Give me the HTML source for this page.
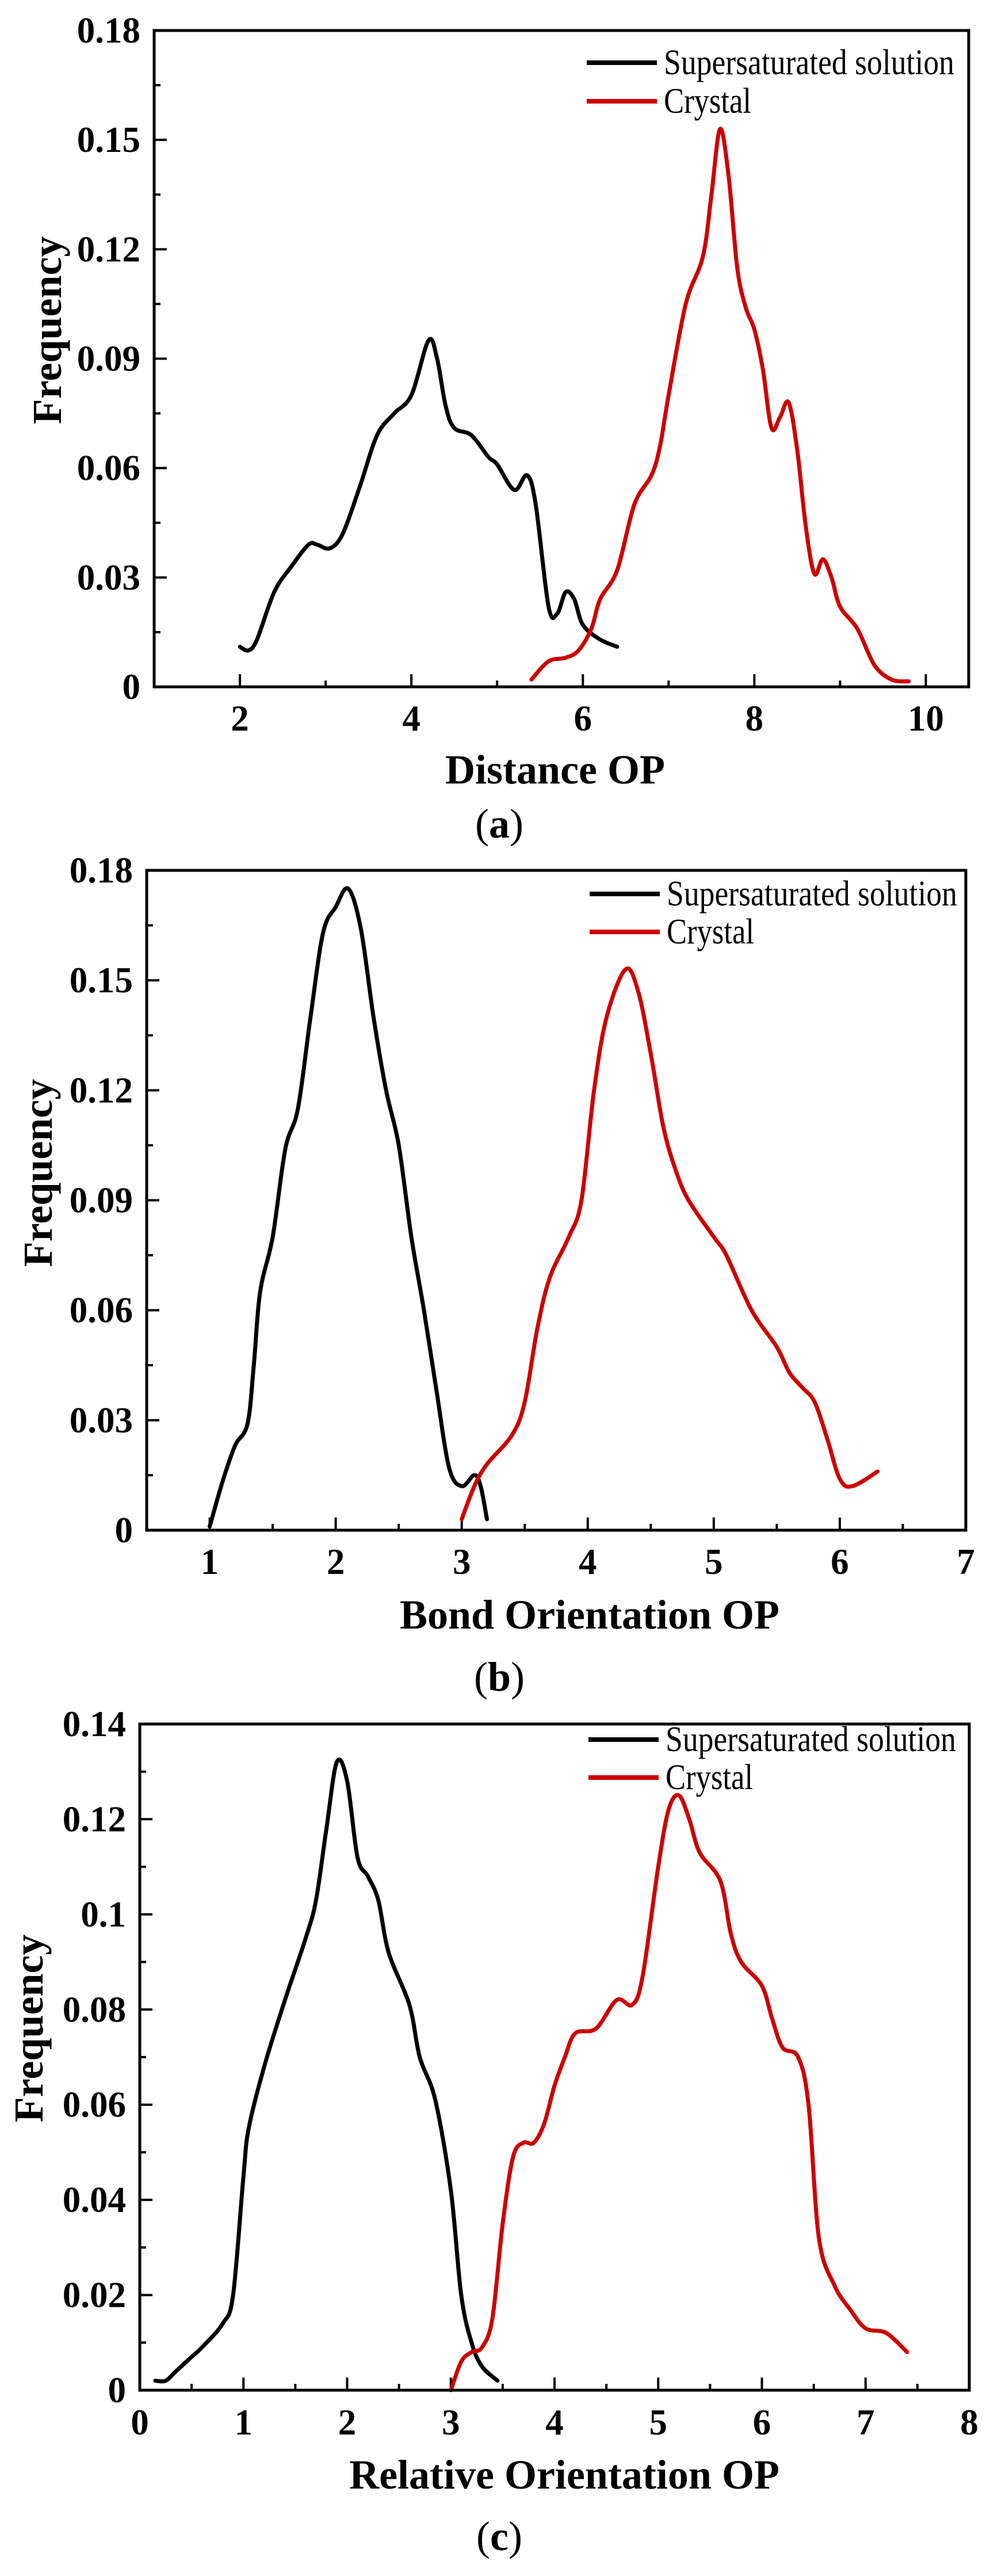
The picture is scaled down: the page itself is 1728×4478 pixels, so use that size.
<!DOCTYPE html>
<html><head><meta charset="utf-8">
<style>
html,body{margin:0;padding:0;background:#fff;}
svg{display:block;}
text{font-family:"Liberation Serif",serif;}
.tick{font-weight:bold;font-size:63px;fill:#000;}
.ttl{font-weight:bold;font-size:72px;fill:#000;}
.leg{font-size:62px;fill:#000;}
.cap{font-size:72px;fill:#000;}
</style></head>
<body>
<svg id="fig" width="1728" height="4478" viewBox="0 0 1728 4478" xmlns="http://www.w3.org/2000/svg"></svg>
<script>
// Panel (a) data
const aBlackX=[2.0,2.1,2.2,2.4,2.6,2.8,2.9,3.05,3.2,3.4,3.6,3.8,4.0,4.2,4.3,4.4,4.5,4.7,4.9,5.0,5.2,5.35,5.45,5.6,5.7,5.8,5.9,6.0,6.2,6.4];
const aBlackY=[0.011,0.010,0.013,0.026,0.033,0.039,0.039,0.038,0.042,0.055,0.069,0.075,0.080,0.095,0.090,0.077,0.071,0.069,0.063,0.061,0.054,0.058,0.050,0.022,0.020,0.026,0.024,0.017,0.013,0.011];
const aRedX=[5.4,5.6,5.8,5.95,6.1,6.2,6.4,6.6,6.8,6.9,7.0,7.2,7.4,7.5,7.6,7.7,7.8,7.9,8.0,8.1,8.2,8.3,8.4,8.5,8.6,8.7,8.8,8.9,9.0,9.2,9.4,9.6,9.8];
const aRedY=[0.002,0.007,0.008,0.010,0.016,0.024,0.032,0.050,0.058,0.066,0.080,0.105,0.118,0.135,0.153,0.140,0.115,0.104,0.098,0.087,0.071,0.074,0.078,0.065,0.044,0.031,0.035,0.030,0.022,0.016,0.006,0.002,0.0015];
const aXTicks=[2,4,6,8,10];
const aYTicks=[0,0.03,0.06,0.09,0.12,0.15,0.18];
const aYLabels=["0","0.03","0.06","0.09","0.12","0.15","0.18"];
// Panel (b) data
const bBlackX=[1.0,1.1,1.2,1.3,1.35,1.4,1.5,1.6,1.7,1.8,1.9,2.0,2.1,2.2,2.3,2.4,2.5,2.6,2.7,2.8,2.9,3.0,3.1,3.15,3.2];
const bBlackY=[0.001,0.013,0.023,0.029,0.045,0.065,0.080,0.104,0.115,0.140,0.163,0.170,0.175,0.164,0.140,0.120,0.105,0.080,0.060,0.038,0.017,0.012,0.015,0.012,0.003];
const bRedX=[3.0,3.1,3.2,3.4,3.5,3.6,3.7,3.85,3.95,4.05,4.15,4.3,4.4,4.5,4.6,4.7,4.8,5.0,5.1,5.3,5.5,5.6,5.7,5.8,5.9,6.0,6.1,6.3];
const bRedY=[0.003,0.012,0.018,0.026,0.035,0.055,0.069,0.080,0.090,0.120,0.140,0.153,0.147,0.130,0.110,0.098,0.090,0.080,0.075,0.060,0.050,0.043,0.039,0.035,0.025,0.014,0.012,0.016];
const bXTicks=[1,2,3,4,5,6,7];
const bYTicks=[0,0.03,0.06,0.09,0.12,0.15,0.18];
const bYLabels=["0","0.03","0.06","0.09","0.12","0.15","0.18"];
// Panel (c) data
const cBlackX=[0.15,0.25,0.35,0.5,0.6,0.8,0.9,1.0,1.05,1.2,1.4,1.6,1.7,1.8,1.9,2.0,2.1,2.2,2.3,2.4,2.6,2.7,2.85,3.0,3.1,3.2,3.3,3.45];
const cBlackY=[0.002,0.002,0.004,0.007,0.009,0.014,0.020,0.045,0.055,0.068,0.082,0.095,0.103,0.118,0.132,0.128,0.112,0.108,0.103,0.092,0.081,0.070,0.061,0.042,0.020,0.010,0.005,0.002];
const cRedX=[3.0,3.1,3.2,3.3,3.4,3.5,3.6,3.7,3.8,3.9,4.0,4.1,4.2,4.4,4.6,4.75,4.85,5.0,5.1,5.2,5.3,5.4,5.6,5.7,5.8,6.0,6.1,6.2,6.35,6.45,6.55,6.7,6.85,7.0,7.2,7.4];
const cRedY=[0.0,0.006,0.008,0.009,0.015,0.035,0.049,0.052,0.052,0.056,0.064,0.070,0.075,0.076,0.082,0.081,0.087,0.110,0.122,0.125,0.120,0.113,0.107,0.096,0.090,0.085,0.078,0.072,0.070,0.060,0.032,0.022,0.017,0.013,0.012,0.008];
const cXTicks=[0,1,2,3,4,5,6,7,8];
const cYTicks=[0,0.02,0.04,0.06,0.08,0.1,0.12,0.14];
const cYLabels=["0","0.02","0.04","0.06","0.08","0.1","0.12","0.14"];

const NS="http://www.w3.org/2000/svg";
const svg=document.getElementById('fig');
function mk(tag,attrs,parent){const e=document.createElementNS(NS,tag);for(const k in attrs)e.setAttribute(k,attrs[k]);(parent||svg).appendChild(e);return e;}

function smoothPath(pts){
  let d="M"+pts[0][0].toFixed(1)+","+pts[0][1].toFixed(1);
  for(let i=0;i<pts.length-1;i++){
    const p0=pts[Math.max(0,i-1)],p1=pts[i],p2=pts[i+1],p3=pts[Math.min(pts.length-1,i+2)];
    const c1x=p1[0]+(p2[0]-p0[0])/6,c1y=p1[1]+(p2[1]-p0[1])/6;
    const c2x=p2[0]-(p3[0]-p1[0])/6,c2y=p2[1]-(p3[1]-p1[1])/6;
    d+=" C"+c1x.toFixed(1)+","+c1y.toFixed(1)+" "+c2x.toFixed(1)+","+c2y.toFixed(1)+" "+p2[0].toFixed(1)+","+p2[1].toFixed(1);
  }
  return d;
}

function panel(cfg){
  const g=mk('g',{});
  
  
  const sx=v=>cfg.L+(v-cfg.x0)/(cfg.x1-cfg.x0)*(cfg.R-cfg.L);
  const sy=v=>cfg.B-(v-cfg.y0)/(cfg.y1-cfg.y0)*(cfg.B-cfg.T);
  for(let i=0;i<cfg.yTicks.length;i++){
    const v=cfg.yTicks[i],y=sy(v);
    const t=mk('line',{x1:cfg.L,x2:cfg.L+22,y1:y,y2:y,stroke:'#000','stroke-width':4},g);
    
    
    const lb=mk('text',{x:cfg.L-24,y:y+21,'text-anchor':'end',class:'tick'},g);
    lb.textContent=cfg.yLabels[i];
    
    
    if(i<cfg.yTicks.length-1){
      const ym=sy((v+cfg.yTicks[i+1])/2);
      const m=mk('line',{x1:cfg.L,x2:cfg.L+11,y1:ym,y2:ym,stroke:'#000','stroke-width':4},g);
      
      
    }
  }
  const step=cfg.xTicks[1]-cfg.xTicks[0];
  for(let i=0;i<cfg.xTicks.length;i++){
    const v=cfg.xTicks[i],x=sx(v);
    const t=mk('line',{x1:x,x2:x,y1:cfg.B,y2:cfg.B-22,stroke:'#000','stroke-width':4},g);
    
    
    const lb=mk('text',{x:x,y:cfg.tickY+21,'text-anchor':'middle',class:'tick'},g);
    lb.textContent=String(v);
    
    
    const xm=sx(v+step/2);
    if(xm<cfg.R-5){
      const m=mk('line',{x1:xm,x2:xm,y1:cfg.B,y2:cfg.B-11,stroke:'#000','stroke-width':4},g);
      
      
    }
  }
  const series=[[cfg.bx,cfg.by,'#000','series-supersaturated'],[cfg.rx,cfg.ry,'#cc0000','series-crystal']];
  for(const s of series){
    const pts=s[0].map((x,i)=>[sx(x),sy(s[1][i])]);
    const p=mk('path',{d:smoothPath(pts),fill:'none',stroke:s[2],'stroke-width':7,'stroke-linejoin':'round','stroke-linecap':'round'},g);
    
    
  }
  const fr=mk('rect',{x:cfg.L,y:cfg.T,width:cfg.R-cfg.L,height:cfg.B-cfg.T,fill:'none',stroke:'#000','stroke-width':5},g);
  
  
  const lg=mk('g',{},g);
  
  
  const ents=[['Supersaturated solution','#000',cfg.legY1],['Crystal','#cc0000',cfg.legY2]];
  for(const e of ents){
    const l=mk('line',{x1:cfg.legX,x2:cfg.legX+122,y1:e[2],y2:e[2],stroke:e[1],'stroke-width':8},lg);
    
    
    const tx=mk('text',{x:cfg.legX+134,y:e[2]+20,class:'leg'},lg);
    tx.textContent=e[0];
    tx.setAttribute('textLength',e[0].length>10?'505':'152');
    tx.setAttribute('lengthAdjust','spacingAndGlyphs');
    
    
  }
  const xt=mk('text',{x:cfg.xtX,y:cfg.xtY+25,'text-anchor':'middle',class:'ttl'},g);
  xt.textContent=cfg.xTitle;
  
  
  const yt=mk('text',{x:0,y:0,'text-anchor':'middle',class:'ttl',transform:'translate('+(cfg.ytX+24)+','+cfg.ytY+') rotate(-90)'},g);
  yt.textContent='Frequency';
  
  
  const cp=mk('text',{x:868,y:cfg.capY+24,'text-anchor':'middle',class:'cap'},g);
  cp.innerHTML='(<tspan font-weight="bold">'+cfg.cap+'</tspan>)';
  
  
}

panel({name:'panel-a',L:268,R:1684,T:53,B:1194,x0:1,x1:10.5,y0:0,y1:0.18,
  xTicks:aXTicks,yTicks:aYTicks,yLabels:aYLabels,bx:aBlackX,by:aBlackY,rx:aRedX,ry:aRedY,
  tickY:1249,xTitle:'Distance OP',xtX:965,xtY:1337,ytX:82,ytY:574,capY:1432,cap:'a',
  legX:1020,legY1:109,legY2:176});
panel({name:'panel-b',L:255,R:1679,T:1513,B:2660,x0:0.5,x1:7,y0:0,y1:0.18,
  xTicks:bXTicks,yTicks:bYTicks,yLabels:bYLabels,bx:bBlackX,by:bBlackY,rx:bRedX,ry:bRedY,
  tickY:2715,xTitle:'Bond Orientation OP',xtX:1025,xtY:2806,ytX:66,ytY:2039,capY:2915,cap:'b',
  legX:1025,legY1:1554,legY2:1620});
panel({name:'panel-c',L:243,R:1685,T:2997,B:4155,x0:0,x1:8,y0:0,y1:0.14,
  xTicks:cXTicks,yTicks:cYTicks,yLabels:cYLabels,bx:cBlackX,by:cBlackY,rx:cRedX,ry:cRedY,
  tickY:4211,xTitle:'Relative Orientation OP',xtX:981,xtY:4301,ytX:50,ytY:3526,capY:4409,cap:'c',
  legX:1023,legY1:3024,legY2:3090});
</script>
</body></html>
